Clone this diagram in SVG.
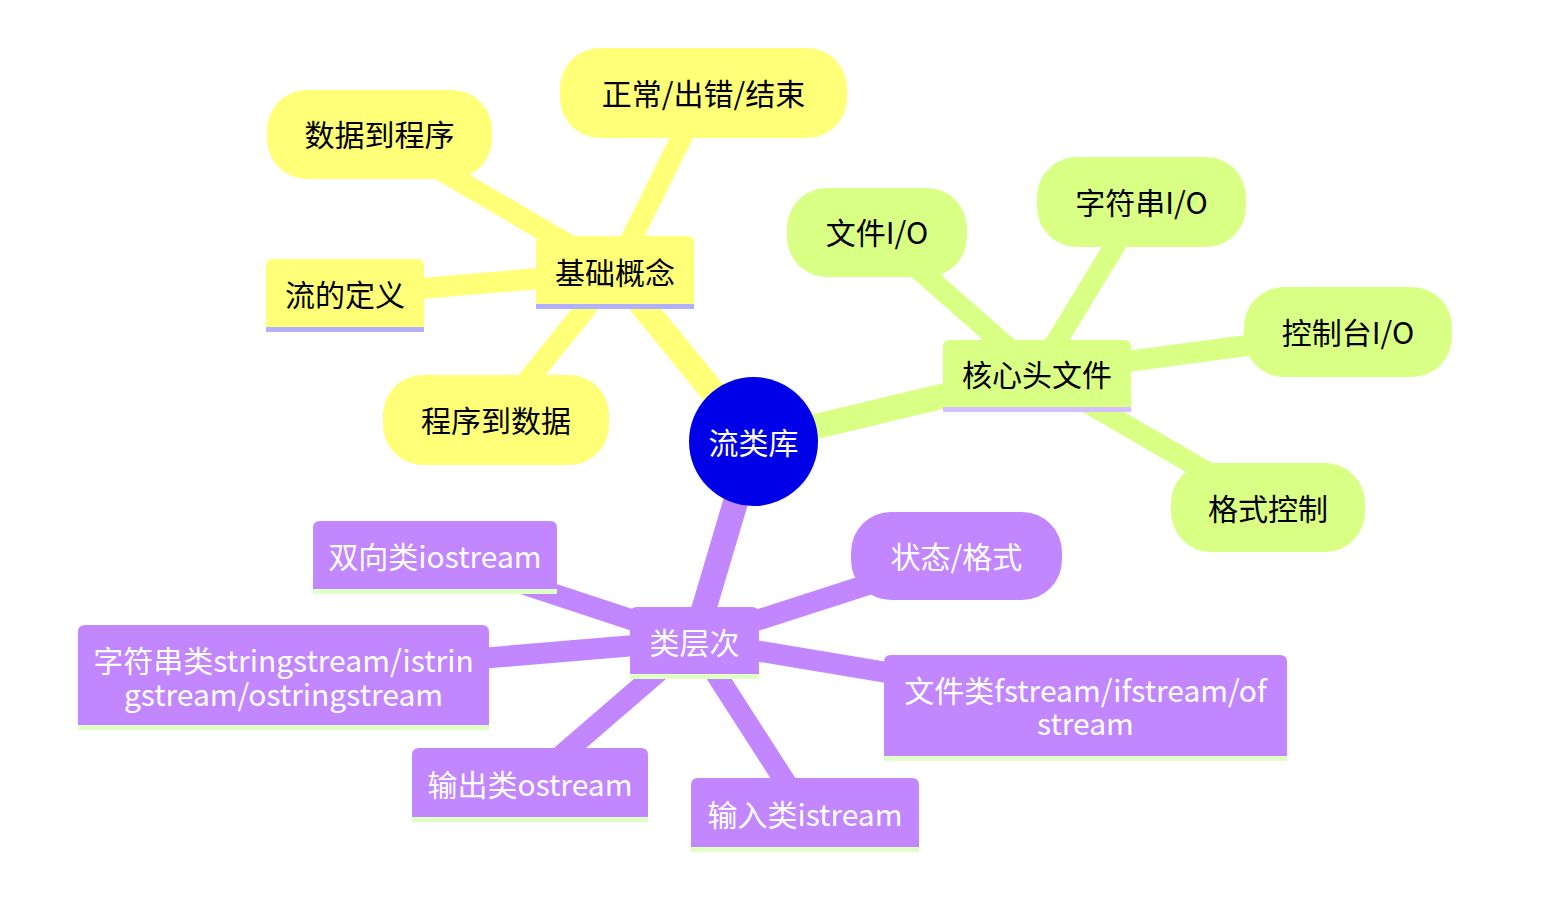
<svg xmlns="http://www.w3.org/2000/svg" width="1555" height="916" viewBox="0 0 1555 916">
<style>
text{font-family:"Noto Sans CJK SC","Noto Sans",sans-serif;font-size:30px;text-anchor:middle;dominant-baseline:central}
.edge{fill:none;stroke-linecap:butt}
.d0{stroke-width:25}
.d1{stroke-width:21}
.e1{stroke:#ffff78}
.e2{stroke:#d9ff85}
.e3{stroke:#c286ff}
.s1{fill:#ffff78}
.s2{fill:#d9ff85}
.s3{fill:#c286ff}
.u1{fill:#b0b0ff}
.u2{fill:#d4c0ff}
.u3{fill:#e0ffc4}
.dk{fill:#000}
.lt{fill:#fff}
</style>
<g id="connectors">
<line class="edge d0 e1" x1="753.5" y1="441.5" x2="615" y2="272"/>
<line class="edge d0 e2" x1="753.5" y1="441.5" x2="1037" y2="373.5"/>
<line class="edge d0 e3" x1="753.5" y1="441.5" x2="694.5" y2="640.5"/>
<line class="edge d1 e1" x1="615" y1="272" x2="345" y2="295"/>
<line class="edge d1 e1" x1="615" y1="272" x2="379.5" y2="134.5"/>
<line class="edge d1 e1" x1="615" y1="272" x2="703.5" y2="93"/>
<line class="edge d1 e1" x1="615" y1="272" x2="496" y2="420"/>
<line class="edge d1 e2" x1="1037" y1="373.5" x2="877" y2="232.5"/>
<line class="edge d1 e2" x1="1037" y1="373.5" x2="1141.5" y2="202"/>
<line class="edge d1 e2" x1="1037" y1="373.5" x2="1348" y2="332"/>
<line class="edge d1 e2" x1="1037" y1="373.5" x2="1268" y2="507.5"/>
<line class="edge d1 e3" x1="694.5" y1="640.5" x2="435" y2="555"/>
<line class="edge d1 e3" x1="694.5" y1="640.5" x2="956.5" y2="556"/>
<line class="edge d1 e3" x1="694.5" y1="640.5" x2="283.5" y2="675"/>
<line class="edge d1 e3" x1="694.5" y1="640.5" x2="1085.5" y2="705.5"/>
<line class="edge d1 e3" x1="694.5" y1="640.5" x2="530" y2="782.5"/>
<line class="edge d1 e3" x1="694.5" y1="640.5" x2="805" y2="812.5"/>
</g>
<g id="root">
<circle cx="753.5" cy="441.5" r="64.5" fill="#0000e8"/>
<text class="lt" x="753.5" y="441">流类库</text>
</g>
<g id="n-jichugainian">
<path class="s1" d="M536 304V243Q536 236 543 236H687Q694 236 694 243V304Z"/>
<rect class="u1" x="536" y="304" width="158" height="5"/>
<text class="dk" x="615" y="271">基础概念</text>
</g>
<g id="n-liudedingyi">
<path class="s1" d="M266 327V266Q266 259 273 259H417Q424 259 424 266V327Z"/>
<rect class="u1" x="266" y="327" width="158" height="5"/>
<text class="dk" x="345" y="293">流的定义</text>
</g>
<g id="n-shujudaochengxu">
<rect class="s1" x="267" y="90" width="225" height="89" rx="40" ry="40"/>
<text class="dk" x="379.5" y="133">数据到程序</text>
</g>
<g id="n-zhengchang">
<rect class="s1" x="560" y="48" width="287" height="90" rx="40" ry="40"/>
<text class="dk" x="703.5" y="92">正常/出错/结束</text>
</g>
<g id="n-chengxudaoshuju">
<rect class="s1" x="383" y="375" width="226" height="90" rx="40" ry="40"/>
<text class="dk" x="496" y="419">程序到数据</text>
</g>
<g id="n-hexintouwenjian">
<path class="s2" d="M943 407V347Q943 340 950 340H1124Q1131 340 1131 347V407Z"/>
<rect class="u2" x="943" y="407" width="188" height="5"/>
<text class="dk" x="1037" y="373">核心头文件</text>
</g>
<g id="n-wenjianio">
<rect class="s2" x="787" y="188" width="180" height="89" rx="40" ry="40"/>
<text class="dk" x="877" y="231">文件I/O</text>
</g>
<g id="n-zifuchuanio">
<rect class="s2" x="1037" y="157" width="209" height="90" rx="40" ry="40"/>
<text class="dk" x="1141.5" y="201">字符串I/O</text>
</g>
<g id="n-kongzhitaiio">
<rect class="s2" x="1244" y="287" width="208" height="90" rx="40" ry="40"/>
<text class="dk" x="1348" y="331">控制台I/O</text>
</g>
<g id="n-geshikongzhi">
<rect class="s2" x="1171" y="463" width="194" height="89" rx="40" ry="40"/>
<text class="dk" x="1268" y="507">格式控制</text>
</g>
<g id="n-leicengci">
<path class="s3" d="M630 674V614Q630 607 637 607H752Q759 607 759 614V674Z"/>
<rect class="u3" x="630" y="674" width="129" height="5"/>
<text class="lt" x="694.5" y="641">类层次</text>
</g>
<g id="n-shuangxiang">
<path class="s3" d="M313 589V528Q313 521 320 521H550Q557 521 557 528V589Z"/>
<rect class="u3" x="313" y="589" width="244" height="5"/>
<text class="lt" x="435" y="555">双向类iostream</text>
</g>
<g id="n-zhuangtai">
<rect class="s3" x="851" y="512" width="211" height="88" rx="40" ry="40"/>
<text class="lt" x="956.5" y="555">状态/格式</text>
</g>
<g id="n-zifuchuanlei">
<path class="s3" d="M78 725V632Q78 625 85 625H482Q489 625 489 632V725Z"/>
<rect class="u3" x="78" y="725" width="411" height="5"/>
<text class="lt" x="283.5" y="659">字符串类stringstream/istrin</text>
<text class="lt" x="283.5" y="693">gstream/ostringstream</text>
</g>
<g id="n-wenjianlei">
<path class="s3" d="M884 756V662Q884 655 891 655H1280Q1287 655 1287 662V756Z"/>
<rect class="u3" x="884" y="756" width="403" height="5"/>
<text class="lt" x="1085.5" y="689">文件类fstream/ifstream/of</text>
<text class="lt" x="1085.5" y="722">stream</text>
</g>
<g id="n-shuchulei">
<path class="s3" d="M412 817V755Q412 748 419 748H641Q648 748 648 755V817Z"/>
<rect class="u3" x="412" y="817" width="236" height="5"/>
<text class="lt" x="530" y="783">输出类ostream</text>
</g>
<g id="n-shurulei">
<path class="s3" d="M691 847V785Q691 778 698 778H912Q919 778 919 785V847Z"/>
<rect class="u3" x="691" y="847" width="228" height="5"/>
<text class="lt" x="805" y="813">输入类istream</text>
</g>
</svg>
